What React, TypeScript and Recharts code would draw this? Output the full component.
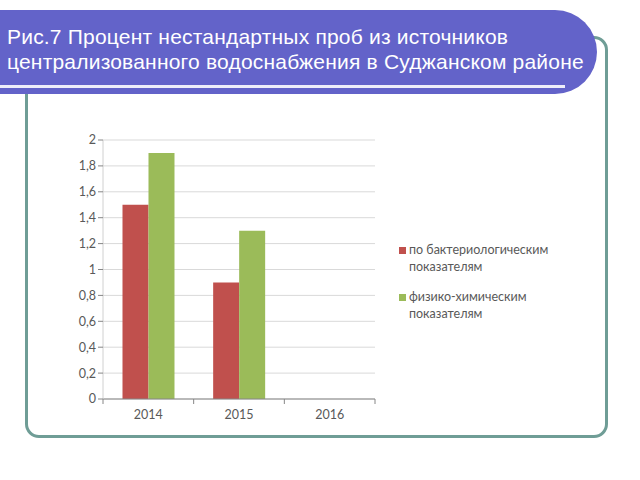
import React from 'react';
import { BarChart, Bar, XAxis, YAxis, CartesianGrid, Legend } from 'recharts';

const years = ['2014', '2015', '2016'];
const bacteriological = [1.5, 0.9, 0];
const physicochemical = [1.9, 1.3, 0];
const seriesNames = ['по бактериологическим показателям', 'физико-химическим показателям'];
const yTicks = [0, 0.2, 0.4, 0.6, 0.8, 1, 1.2, 1.4, 1.6, 1.8, 2];
const titleLines = ['Рис.7 Процент нестандартных проб из источников', 'централизованного водоснабжения в Суджанском районе'];

const data = years.map((y, i) => ({ year: y, bact: bacteriological[i], phys: physicochemical[i] }));
const colors = ['#c0504d', '#9bbb59'];

const PLOT_W = 272;
const halfBand = PLOT_W / years.length / 2;

const XTick = (props: any) => {
  const { x, y, payload, index } = props;
  return (
    <g>
      <line x1={x - halfBand} x2={x - halfBand} y1={y - 8} y2={y - 3} stroke="#868686" />
      {index === years.length - 1 && (
        <line x1={x + halfBand} x2={x + halfBand} y1={y - 8} y2={y - 3} stroke="#868686" />
      )}
      <text x={x} y={y + 12} textAnchor="middle" fill="#595959" fontSize={12.5} fontFamily="Lato, 'Open Sans', sans-serif">
        {payload.value}
      </text>
    </g>
  );
};

const LegendContent = () => (
  <div style={{ fontFamily: "Lato, 'Open Sans', sans-serif", fontSize: 12.5, color: '#595959', lineHeight: '17px' }}>
    {seriesNames.map((n, i) => (
      <div key={n} style={{ display: 'flex', alignItems: 'flex-start', marginBottom: i === 0 ? 13 : 0 }}>
        <span style={{ display: 'inline-block', width: 7, height: 7, background: colors[i], marginTop: 6, marginRight: 3, flex: 'none' }} />
        <span style={{ width: 150 }}>{n}</span>
      </div>
    ))}
  </div>
);

export default function App() {
  return (
    <div style={{ position: 'absolute', left: 0, top: 0, width: 640, height: 480, background: '#ffffff', overflow: 'hidden' }}>
      <div style={{ position: 'absolute', left: 25, top: 36, width: 577, height: 396, border: '3px solid #6f9d96', borderRadius: 14 }} />
      <div style={{ position: 'absolute', left: 0, top: 0 }}>
        <BarChart width={640} height={480} data={data} margin={{ top: 140, right: 265, bottom: 51, left: 63 }} barCategoryGap="21.5%" barGap={0}>
          <CartesianGrid vertical={false} stroke="#d9d9d9" />
          <XAxis dataKey="year" stroke="#868686" tickLine={false} tick={<XTick />} height={30} interval={0} />
          <YAxis domain={[0, 2]} ticks={yTicks} interval={0} width={40} stroke="#d0d0d0" tickLine={{ stroke: '#868686' }} tickSize={5}
            tickFormatter={(v: number) => String(v).replace('.', ',')}
            tick={{ fill: '#595959', fontSize: 12.5, fontFamily: "Lato, 'Open Sans', sans-serif" }} />
          <Legend content={<LegendContent />} layout="vertical" verticalAlign="middle" align="center"
            wrapperStyle={{ position: 'absolute', left: 399, top: 241, width: 200 }} />
          <Bar dataKey="bact" name={seriesNames[0]} fill={colors[0]} isAnimationActive={false} />
          <Bar dataKey="phys" name={seriesNames[1]} fill={colors[1]} isAnimationActive={false} />
        </BarChart>
      </div>
      <div style={{ position: 'absolute', left: 0, top: 10, width: 597, height: 84, background: '#6363c9', borderRadius: '0 42px 42px 0' }} />
      <div style={{ position: 'absolute', left: 0, top: 85, width: 565, height: 2.5, background: '#eeeefa' }} />
      <div style={{ position: 'absolute', left: 7, top: 24, color: '#ffffff', fontFamily: "'Liberation Sans', Arial, sans-serif", fontSize: 21, letterSpacing: '0.2px', lineHeight: '25px', whiteSpace: 'nowrap' }}>
        {titleLines.map((l) => (<div key={l}>{l}</div>))}
      </div>
    </div>
  );
}
